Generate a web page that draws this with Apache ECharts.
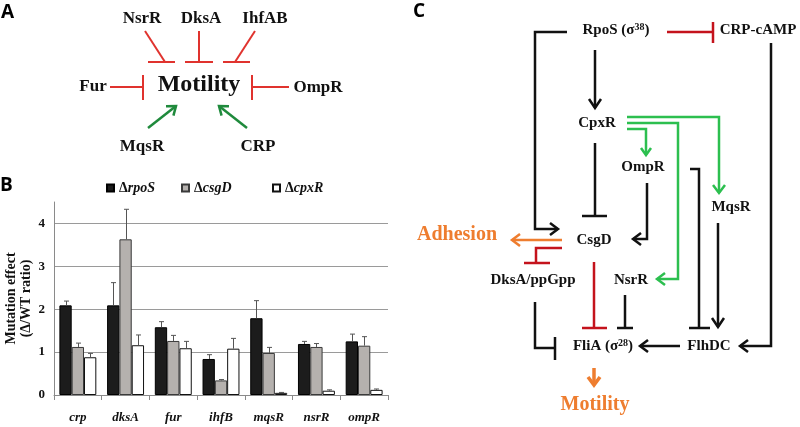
<!DOCTYPE html>
<html><head><meta charset="utf-8">
<script src="https://cdn.jsdelivr.net/npm/echarts@6/dist/echarts.min.js"></script>
<style>html,body{margin:0;padding:0;background:#fff}#c{width:800px;height:427px}</style>
</head><body><div id="c"></div>
<script>
// ---------- Data (panel B) ----------
const categories = ['crp', 'dksA', 'fur', 'ihfB', 'mqsR', 'nsrR', 'ompR'];
const seriesNames = ['ΔrpoS', 'ΔcsgD', 'ΔcpxR'];
const rpoS = [2.09, 2.09, 1.58, 0.84, 1.79, 1.19, 1.25];
const csgD = [1.12, 3.63, 1.26, 0.34, 0.98, 1.12, 1.15];
const cpxR = [0.88, 1.16, 1.09, 1.08, 0.05, 0.10, 0.12];
const rpoSErr = [0.10, 0.53, 0.13, 0.10, 0.41, 0.06, 0.17];
const csgDErr = [0.09, 0.70, 0.13, 0.02, 0.13, 0.08, 0.21];
const cpxRErr = [0.09, 0.24, 0.16, 0.24, 0.01, 0.02, 0.02];
const yAxisMax = 4.5;
const yTickInterval = 1;

// ---------- Styles ----------
const SERIF = '"Liberation Serif","Times New Roman",serif';
const SANS = '"Open Sans","Liberation Sans",sans-serif';
const barFill = ['#1c1c1c', '#b5b1ae', '#ffffff'];
const barBorder = ['#000000', '#3a3a3a', '#111111'];
const BAR_FRAC = 0.258;
const legendLeft = [106, 181, 272];

const values = [rpoS, csgD, cpxR];
const errs = [rpoSErr, csgDErr, cpxRErr];

const barSeries = seriesNames.map((n, k) => ({
  type: 'bar', name: n, data: values[k],
  barWidth: (BAR_FRAC * 100) + '%', barGap: '0%',
  itemStyle: { color: barFill[k], borderColor: barBorder[k], borderWidth: 1 },
  emphasis: { disabled: true }, z: 2
}));

const errSeries = seriesNames.map((n, k) => ({
  type: 'custom', name: n + ' err', z: 5, silent: true,
  data: values[k].map((v, i) => [i, v, v + errs[k][i]]),
  encode: { x: 0, y: [1, 2] },
  renderItem: (params, api) => {
    const band = api.size([1, 0])[0];
    const off = (k - 1) * band * BAR_FRAC;
    const b = api.coord([api.value(0), api.value(1)]);
    const t = api.coord([api.value(0), api.value(2)]);
    const x = Math.round(b[0] + off) + 0.5;
    return { type: 'group', children: [
      { type: 'line', shape: { x1: x, y1: b[1], x2: x, y2: t[1] }, style: { stroke: '#555', lineWidth: 1 } },
      { type: 'line', shape: { x1: x - 2.5, y1: t[1], x2: x + 2.5, y2: t[1] }, style: { stroke: '#555', lineWidth: 1 } }
    ] };
  }
}));

const legends = seriesNames.map((n, k) => ({
  data: [n], left: legendLeft[k], top: 181, padding: 0, icon: 'rect', itemWidth: 7, itemHeight: 7,
  selectedMode: false,
  formatter: s => '{d|' + s.charAt(0) + '}{i|' + s.slice(1) + '}',
  textStyle: { rich: {
    d: { fontFamily: SERIF, fontWeight: 'bold', fontSize: 14, color: '#111' },
    i: { fontFamily: SERIF, fontWeight: 'bold', fontStyle: 'italic', fontSize: 14, color: '#111' } } }
}));

// ---------- Diagram helpers (panels A and C) ----------
const G = [];
function txt(x, y, text, size, color, extra) {
  G.push({ type: 'text', x: x, y: y, silent: true, z: 10,
    style: Object.assign({ text: text, font: 'bold ' + size + 'px ' + SERIF, fill: color,
      align: 'center', verticalAlign: 'middle', textAlign: 'center', textVerticalAlign: 'middle' }, extra || {}) });
}
function pl(points, color, w) {
  G.push({ type: 'polyline', silent: true, z: 10, shape: { points: points },
    style: { stroke: color, lineWidth: w, fill: null, lineJoin: 'miter' } });
}
function head(tip, from, color, w, len, half) {
  const dx = tip[0] - from[0], dy = tip[1] - from[1];
  const L = Math.hypot(dx, dy), ux = dx / L, uy = dy / L;
  const bx = tip[0] - ux * len, by = tip[1] - uy * len;
  pl([[bx - uy * half, by + ux * half], tip, [bx + uy * half, by - ux * half]], color, w);
}
function arrow(points, color, w, len, half) {
  pl(points, color, w);
  head(points[points.length - 1], points[points.length - 2], color, w, len || 9, half || 7);
}
function tee(points, bar, color, w) {
  pl(points, color, w);
  pl(bar, color, w);
}
function letter(x, y, t) {
  G.push({ type: 'text', x: x, y: y, silent: true, style: { text: t, font: 'bold 19px ' + SANS, fill: '#000',
    align: 'left', verticalAlign: 'middle', textAlign: 'left', textVerticalAlign: 'middle' } });
}

// Panel letters
letter(1, 13, 'A');
letter(0, 186, 'B');
letter(413, 12, 'C');

// ---- Panel A ----
const RA = '#e0332e', GA = '#1f8a3c';
txt(142, 19, 'NsrR', 17, '#111');
txt(201, 19, 'DksA', 17, '#111');
txt(265, 19, 'IhfAB', 17, '#111');
txt(93, 87, 'Fur', 17, '#111');
txt(318, 88, 'OmpR', 17, '#111');
txt(142, 147, 'MqsR', 17, '#111');
txt(258, 147, 'CRP', 17, '#111');
txt(199, 85, 'Motility', 24, '#111');
tee([[145, 31], [165, 62]], [[148, 62], [175, 62]], RA, 2);
tee([[199, 31], [199, 62]], [[185, 62], [213, 62]], RA, 2);
tee([[255, 31], [235, 62]], [[223, 62], [250, 62]], RA, 2);
tee([[110, 87], [143, 87]], [[143, 75], [143, 100]], RA, 2);
tee([[289, 87], [252, 87]], [[252, 75], [252, 100]], RA, 2);
arrow([[148, 128], [176, 106]], GA, 2.5, 8, 6);
arrow([[247, 128], [219, 106]], GA, 2.5, 8, 6);

// ---- Panel C ----
const K = '#111', RC = '#c4131c', GC = '#2cbf4f', OC = '#ee7d2f';
function sigmaLabel(x, y, pre, sup) {
  G.push({ type: 'text', x: x, y: y, silent: true, z: 10, style: {
    text: '{a|' + pre + '}{s|' + sup + '}{a|)}', align: 'center', verticalAlign: 'middle', textAlign: 'center', textVerticalAlign: 'middle',
    rich: { a: { font: 'bold 15px ' + SERIF, fill: '#111', lineHeight: 16 },
            s: { font: 'bold 10px ' + SERIF, fill: '#111', verticalAlign: 'top', lineHeight: 10 } } } });
}
sigmaLabel(616, 30, 'RpoS (σ', '38');
sigmaLabel(603, 346, 'FliA (σ', '28');
txt(758, 30, 'CRP-cAMP', 15, '#111');
txt(597, 123, 'CpxR', 15, '#111');
txt(643, 167, 'OmpR', 15, '#111');
txt(731, 207, 'MqsR', 15, '#111');
txt(594, 240, 'CsgD', 15, '#111');
txt(533, 280, 'DksA/ppGpp', 15, '#111');
txt(631, 280, 'NsrR', 15, '#111');
txt(709, 346, 'FlhDC', 15, '#111');
txt(457, 235, 'Adhesion', 20, OC);
txt(595, 405, 'Motility', 20, OC);

// black
arrow([[567, 32], [535, 32], [535, 229], [558, 229]], K, 2.5, 8, 6);
arrow([[595, 50], [595, 108]], K, 2.5, 9, 6);
tee([[595, 143], [595, 216]], [[582, 216], [607, 216]], K, 2.5);
arrow([[647, 183], [647, 239], [633, 239]], K, 2.5, 8, 6);
tee([[690, 169], [699, 169], [699, 328]], [[689, 328], [710, 328]], K, 2.5);
arrow([[718, 223], [718, 327]], K, 2.5, 9, 6);
arrow([[771, 43], [771, 346], [740, 346]], K, 2.5, 8, 6);
arrow([[680, 346], [640, 346]], K, 2.5, 8, 6);
tee([[625, 295], [625, 328]], [[617, 328], [633, 328]], K, 2.5);
tee([[535, 302], [535, 348], [555, 348]], [[555, 337], [555, 360]], K, 2.5);
// red
tee([[667, 32], [713, 32]], [[713, 22], [713, 43]], RC, 2.5);
tee([[594, 262], [594, 328]], [[582, 328], [607, 328]], RC, 2.5);
tee([[562, 248], [536, 248], [536, 263]], [[524, 263], [550, 263]], RC, 2.5);
// green
arrow([[627, 117], [719, 117], [719, 193]], GC, 2.5, 8, 6);
arrow([[627, 123], [678, 123], [678, 279], [657, 279]], GC, 2.5, 8, 6);
arrow([[627, 129], [646, 129], [646, 155]], GC, 2.5, 7, 5);
// orange
arrow([[562, 240], [512, 240]], OC, 2.5, 8, 6);
arrow([[594, 368], [594, 385]], OC, 3.5, 8, 6);

// ---------- Chart ----------
const chart = echarts.init(document.getElementById('c'), null, { renderer: 'canvas' });
chart.setOption({
  animation: false,
  backgroundColor: '#fff',
  grid: { left: 54, top: 202, width: 334, height: 193, containLabel: false },
  legend: legends,
  xAxis: {
    type: 'category', data: categories,
    axisLine: { lineStyle: { color: '#8a8a8a', width: 1 } },
    axisTick: { show: true, length: 5, lineStyle: { color: '#8a8a8a' } },
    axisLabel: { margin: 16, fontFamily: SERIF, fontWeight: 'bold', fontStyle: 'italic', fontSize: 13, color: '#111' }
  },
  yAxis: {
    type: 'value', min: 0, max: yAxisMax, interval: yTickInterval,
    name: 'Mutation effect\n(Δ/WT ratio)', nameLocation: 'middle', nameRotate: 90, nameGap: 20,
    nameTextStyle: { fontFamily: SERIF, fontWeight: 'bold', fontSize: 14, color: '#111', lineHeight: 15 },
    axisLine: { show: true, lineStyle: { color: '#8a8a8a', width: 1 } },
    axisTick: { show: false },
    axisLabel: { margin: 9, fontFamily: SERIF, fontWeight: 'bold', fontSize: 13, color: '#111',
      formatter: v => (Math.abs(v - Math.round(v)) < 1e-9 ? String(Math.round(v)) : '') },
    splitLine: { show: true, showMaxLine: false, lineStyle: { color: '#9a9a9a', width: 1 } }
  },
  series: barSeries.concat(errSeries),
  graphic: { elements: G }
});
</script>
</body></html>
